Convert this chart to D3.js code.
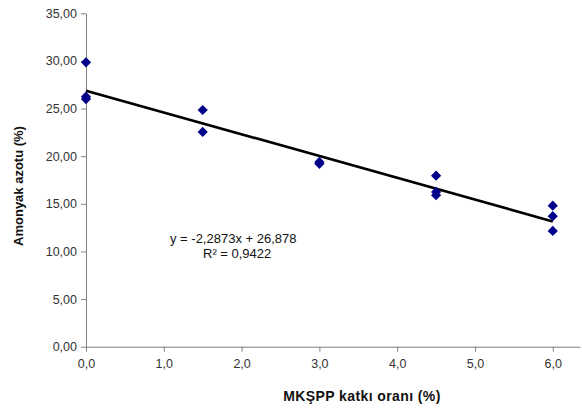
<!DOCTYPE html>
<html><head><meta charset="utf-8">
<script src="https://cdn.jsdelivr.net/npm/d3@7"></script>
<style>body{margin:0;background:#fff}svg{display:block}</style>
</head><body>
<svg id="c" width="582" height="409"></svg>
<script>
const xValues = [0, 0, 0, 1.5, 1.5, 3, 3, 4.5, 4.5, 4.5, 6, 6, 6];
const yValues = [29.85, 26.0, 26.25, 24.85, 22.55, 19.2, 19.4, 17.95, 16.25, 15.9, 14.8, 13.7, 12.15];
const xTicks = [0, 1, 2, 3, 4, 5, 6];
const yTicks = [0, 5, 10, 15, 20, 25, 30, 35];
const slope = -2.2873, intercept = 26.878, r2 = "0,9422";
const eqText = "y = -2,2873x  + 26,878";
const xTitle = "MKŞPP katkı oranı (%)";
const yTitle = "Amonyak  azotu (%)";

const svg = d3.select("#c");
const x = d3.scaleLinear().domain([0, 6.35]).range([86, 580]);
const y = d3.scaleLinear().domain([0, 35]).range([346.7, 13.3]);
const comma = (d, n) => d.toFixed(n).replace(".", ",");

const font = "Liberation Sans, Arial, sans-serif";

const ya = svg.append("g").attr("transform", "translate(86,0)")
  .call(d3.axisLeft(y).tickValues(yTicks).tickSize(5).tickSizeOuter(0).tickPadding(4).tickFormat(d => comma(d, 2)));
const xa = svg.append("g").attr("transform", `translate(0,${y(0)})`)
  .call(d3.axisBottom(x).tickValues(xTicks).tickSize(5).tickSizeOuter(0).tickPadding(7).tickFormat(d => comma(d, 1)));
[ya, xa].forEach(a => {
  a.selectAll("path,line").attr("stroke", "#808080");
  a.selectAll("text").attr("fill", "#333").style("font-family", font).style("font-size", "12.5px");
});

svg.append("line")
  .attr("x1", x(0)).attr("y1", y(intercept))
  .attr("x2", x(6)).attr("y2", y(intercept + slope * 6))
  .attr("stroke", "#000").attr("stroke-width", 2.6);

const sq = d3.symbol().type(d3.symbolSquare).size(52);
svg.append("g").selectAll("path").data(xValues.map((d, i) => [d, yValues[i]]))
  .join("path")
  .attr("d", sq)
  .attr("transform", d => `translate(${x(d[0])},${y(d[1])}) rotate(45)`)
  .attr("fill", "#00008b");

svg.append("text").attr("x", 170).attr("y", 243).attr("fill", "#111")
  .style("font-family", font).style("font-size", "13px").text(eqText);
svg.append("text").attr("x", 203).attr("y", 258).attr("fill", "#111")
  .style("font-family", font).style("font-size", "13px").text("R² = " + r2);

svg.append("text").attr("x", 362).attr("y", 401).attr("text-anchor", "middle")
  .attr("fill", "#111").style("font-family", font).style("font-size", "14px").style("font-weight", "bold")
  .style("letter-spacing", "0.4px")
  .text(xTitle);
svg.append("text").attr("transform", "translate(23,186) rotate(-90)").attr("text-anchor", "middle")
  .attr("fill", "#111").style("font-family", font).style("font-size", "13px").style("font-weight", "bold")
  .text(yTitle);
</script>
</body></html>
